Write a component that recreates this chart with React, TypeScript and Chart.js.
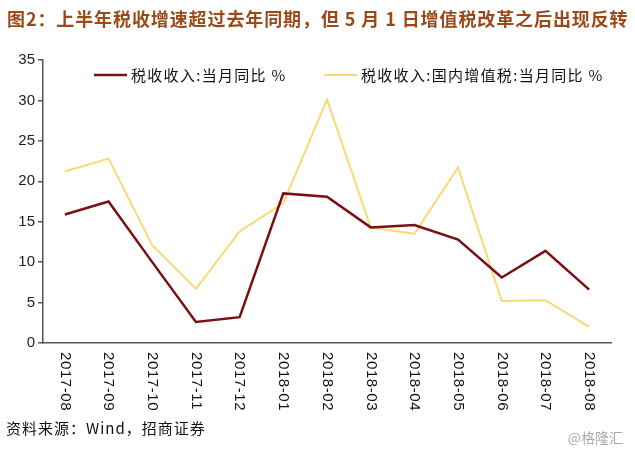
import React, { useEffect, useRef } from "react";
import { Chart, registerables } from "chart.js";

Chart.register(...registerables);

const categories = [
  "2017-08", "2017-09", "2017-10", "2017-11", "2017-12", "2018-01", "2018-02",
  "2018-03", "2018-04", "2018-05", "2018-06", "2018-07", "2018-08",
];
const taxRevenueYoY = [15.9, 17.5, 10.0, 2.6, 3.2, 18.5, 18.1, 14.3, 14.6, 12.8, 8.1, 11.4, 6.6];
const vatRevenueYoY = [21.2, 22.8, 12.1, 6.7, 13.8, 17.3, 30.1, 14.3, 13.5, 21.7, 5.2, 5.3, 2.0];
const seriesLabels = ["税收收入:当月同比 %", "税收收入:国内增值税:当月同比 %"];
const yTicks = [0, 5, 10, 15, 20, 25, 30, 35];

const titleText = "图2：上半年税收增速超过去年同期，但 5 月 1 日增值税改革之后出现反转";
const sourceText = "资料来源：Wind，招商证券";
const watermarkText = "@格隆汇";

const RED = "#7a1014";
const YELLOW = "#f7da74";
const FONT = "'Liberation Sans', Arial, 'Noto Sans CJK SC', sans-serif";
const CJK = "'Noto Sans CJK SC', sans-serif";

export default function App() {
  const ref = useRef<HTMLCanvasElement | null>(null);

  useEffect(() => {
    document.body.style.margin = "0";
    const canvas = ref.current!;
    const overlay = {
      id: "overlay",
      afterDraw(chart: any) {
        const ctx = chart.ctx;
        const x = chart.scales.x;
        ctx.save();
        // rotated x labels (top-to-bottom)
        ctx.fillStyle = "#111";
        ctx.font = `15px ${FONT}`;
        (ctx as any).letterSpacing = "0.6px";
        ctx.textAlign = "left";
        ctx.textBaseline = "middle";
        categories.forEach((c, i) => {
          const px = x.getPixelForValue(i);
          ctx.save();
          ctx.translate(px, 352);
          ctx.rotate(Math.PI / 2);
          ctx.fillText(c, 0, 0);
          ctx.restore();
        });
        // legend
        const items = [
          { x0: 94, color: RED, w: 2.5, label: seriesLabels[0] },
          { x0: 324, color: YELLOW, w: 2, label: seriesLabels[1] },
        ];
        ctx.font = `15px ${CJK}`;
        (ctx as any).letterSpacing = "1.3px";
        items.forEach((it) => {
          ctx.strokeStyle = it.color;
          ctx.lineWidth = it.w;
          ctx.beginPath();
          ctx.moveTo(it.x0, 75);
          ctx.lineTo(it.x0 + 33, 75);
          ctx.stroke();
          ctx.fillStyle = "#111";
          ctx.fillText(it.label, it.x0 + 37, 75);
        });
        ctx.restore();
      },
    };

    const chart = new Chart(canvas, {
      type: "line",
      data: {
        labels: categories,
        datasets: [
          {
            label: seriesLabels[0],
            data: taxRevenueYoY,
            borderColor: RED,
            borderWidth: 2.5,
            pointRadius: 0,
            tension: 0,
          },
          {
            label: seriesLabels[1],
            data: vatRevenueYoY,
            borderColor: YELLOW,
            borderWidth: 2,
            pointRadius: 0,
            tension: 0,
          },
        ],
      },
      options: {
        responsive: false,
        animation: false,
        layout: { padding: { top: 60, right: 24, left: 0, bottom: 0 } },
        plugins: { legend: { display: false }, tooltip: { enabled: false }, title: { display: false } },
        scales: {
          x: {
            offset: true,
            grid: { display: false },
            border: { display: true, color: "#555", width: 1.5 },
            ticks: { display: false },
            afterFit: (s: any) => { s.height = 108; },
          },
          y: {
            min: 0,
            max: 35,
            afterBuildTicks: (s: any) => { s.ticks = yTicks.map((v) => ({ value: v })); },
            grid: { drawOnChartArea: false, drawTicks: true, tickLength: 5, color: "#555", lineWidth: 1.5 },
            border: { display: true, color: "#555", width: 1.5 },
            ticks: { color: "#222", font: { size: 15, family: FONT }, padding: 3 },
            afterFit: (s: any) => { s.width = 43; },
          },
        },
      },
      plugins: [overlay],
    });
    return () => chart.destroy();
  }, []);

  return (
    <div style={{ position: "relative", width: 635, height: 451, background: "#fff", overflow: "hidden" }}>
      <canvas ref={ref} width={635} height={451} style={{ position: "absolute", left: 0, top: 0 }} />
      <div style={{ position: "absolute", left: 7, top: 5, fontFamily: CJK, fontWeight: 700, fontSize: 18, lineHeight: "26px", color: "#9a4a18", whiteSpace: "nowrap", letterSpacing: 0.9 }}>
        {titleText}
      </div>
      <div style={{ position: "absolute", left: 6, top: 417, fontFamily: CJK, fontSize: 15, lineHeight: "22px", color: "#111", whiteSpace: "nowrap", letterSpacing: 1 }}>
        {sourceText}
      </div>
      <div style={{ position: "absolute", right: 12, top: 427, fontFamily: CJK, fontSize: 14, lineHeight: "20px", color: "#aaa", whiteSpace: "nowrap" }}>
        {watermarkText}
      </div>
    </div>
  );
}
